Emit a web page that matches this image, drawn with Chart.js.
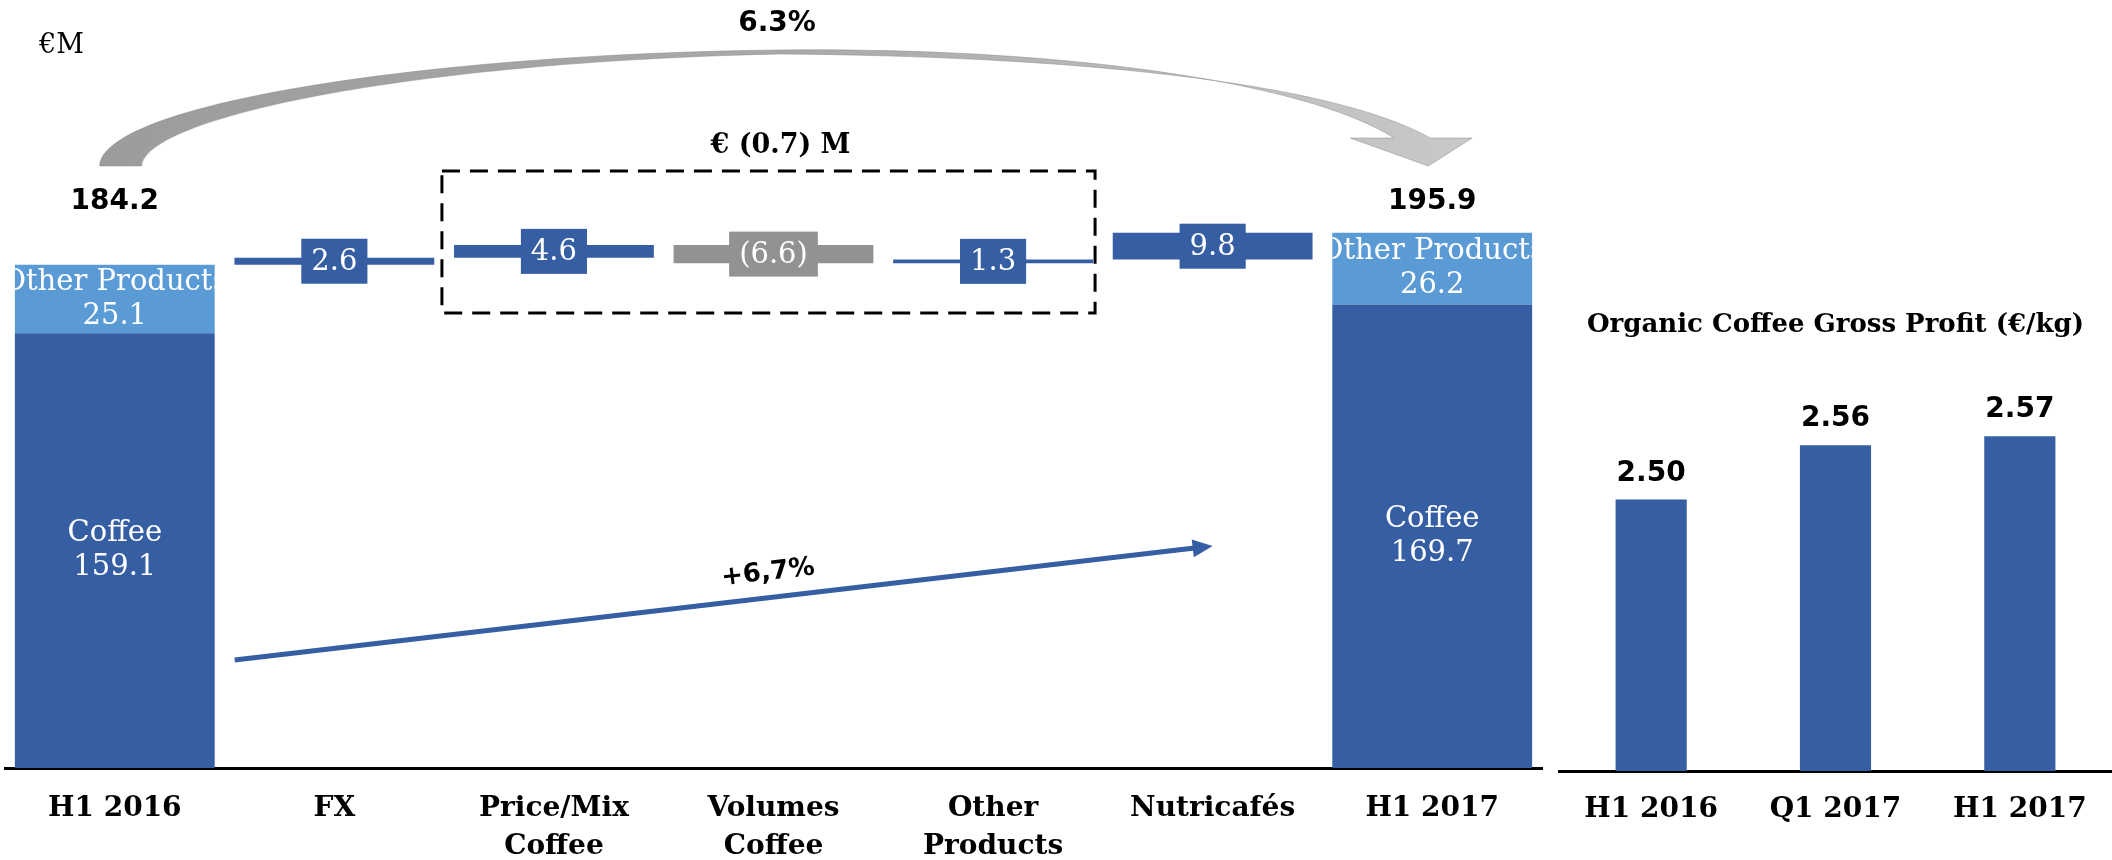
<!DOCTYPE html>
<html>
<head>
<meta charset="utf-8">
<script src="https://cdn.jsdelivr.net/npm/chart.js@4.4.0/dist/chart.umd.min.js"></script>
<style>
    html, body { margin: 0; padding: 0; background: #fff; }
    #wrap { position: relative; width: 2112px; height: 860px; overflow: hidden; }
    #bridgeBox { position: absolute; left: 0; top: 0; width: 1545px; height: 860px; }
    #gpBox { position: absolute; left: 1545px; top: 0; width: 567px; height: 860px; }
</style>
</head>
<body>
<div id="wrap">
    <div id="bridgeBox"><canvas id="bridgeChart"></canvas></div>
    <div id="gpBox"><canvas id="gpChart"></canvas></div>
</div>
<script>
// Bridge data (€M)
const bridgeLabels = [['H1 2016'], ['FX'], ['Price/Mix', 'Coffee'], ['Volumes', 'Coffee'], ['Other', 'Products'], ['Nutricafés'], ['H1 2017']];
const coffeeValues = [159.1, null, null, null, null, null, 169.7];
const otherProductsValues = [25.1, null, null, null, null, null, 26.2];
const totalValues = [184.2, null, null, null, null, null, 195.9];
const bridgeValues = [null, 2.6, 4.6, -6.6, 1.3, 9.8, null];

// Organic coffee gross profit (€/kg)
const gpLabels = ['H1 2016', 'Q1 2017', 'H1 2017'];
const gpValues = [2.50, 2.56, 2.57];

const unitLabel = '€M';
const totalChangeLabel = '6.3%';
const coffeeChangeLabel = '+6,7%';
const gpTitle = 'Organic Coffee Gross Profit (€/kg)';

const darkBlue = '#365EA3';
const lightBlue = '#5B9BD5';
const grey = '#929292';

// floating bars for the library
const coffeeBars = coffeeValues.map(v => v === null ? null : [0, v]);
const otherBars = otherProductsValues.map((v, i) => v === null ? null : [coffeeValues[i], coffeeValues[i] + v]);
let running = totalValues[0];
const stepBars = bridgeValues.map(v => {
    if (v === null) return null;
    const bar = [running, running + v];
    running += v;
    return bar;
});
const boxedSum = bridgeValues[2] + bridgeValues[3] + bridgeValues[4];

function fmtStep(v) {
    return v < 0 ? '(' + Math.abs(v).toFixed(1) + ')' : v.toFixed(1);
}

const bridgeLabelPlugin = {
    id: 'bridgeLabels',
    afterDatasetsDraw(chart) {
        const ctx = chart.ctx;
        const yScale = chart.scales.y;

        // segment labels in the stacked bars
        [0, 1].forEach(di => {
            const ds = chart.data.datasets[di];
            chart.getDatasetMeta(di).data.forEach((bar, i) => {
                const v = ds.values[i];
                if (v === null) return;
                const top = Math.min(bar.y, bar.base);
                const bottom = Math.max(bar.y, bar.base);
                const cy = (top + bottom) / 2;
                ctx.save();
                ctx.beginPath();
                ctx.rect(bar.x - bar.width / 2, top, bar.width, bottom - top);
                ctx.clip();
                ctx.fillStyle = '#fff';
                ctx.font = '29px "DejaVu Serif"';
                ctx.textAlign = 'center';
                ctx.textBaseline = 'middle';
                ctx.fillText(ds.label, bar.x, cy - 17);
                ctx.fillText(v.toFixed(1), bar.x, cy + 17);
                ctx.restore();
            });
        });

        // boxed values on the bridge steps
        chart.getDatasetMeta(2).data.forEach((bar, i) => {
            const v = bridgeValues[i];
            if (v === null) return;
            const text = fmtStep(v);
            ctx.save();
            ctx.font = '29px "DejaVu Serif"';
            const w = ctx.measureText(text).width + 20;
            const h = 45;
            const cy = (bar.y + bar.base) / 2;
            ctx.fillStyle = v < 0 ? grey : darkBlue;
            ctx.fillRect(bar.x - w / 2, cy - h / 2, w, h);
            ctx.fillStyle = '#fff';
            ctx.textAlign = 'center';
            ctx.textBaseline = 'middle';
            ctx.fillText(text, bar.x, cy + 1);
            ctx.restore();
        });

        // totals above the end bars
        const maxTotal = Math.max(...totalValues.filter(v => v !== null));
        const ty = yScale.getPixelForValue(maxTotal) - 31;
        chart.getDatasetMeta(1).data.forEach((bar, i) => {
            if (totalValues[i] === null) return;
            ctx.save();
            ctx.fillStyle = '#000';
            ctx.font = 'bold 28px "DejaVu Sans"';
            ctx.textAlign = 'center';
            ctx.textBaseline = 'middle';
            ctx.fillText(totalValues[i].toFixed(1), bar.x, ty);
            ctx.restore();
        });
    },
    afterDraw(chart) {
        const ctx = chart.ctx;
        const xScale = chart.scales.x;
        const xa = xScale.getPixelForValue(0);
        const xb = xScale.getPixelForValue(6);

        // unit
        ctx.save();
        ctx.fillStyle = '#000';
        ctx.font = '27px "DejaVu Serif"';
        ctx.textAlign = 'left';
        ctx.textBaseline = 'alphabetic';
        ctx.fillText(unitLabel, 39, 53);
        ctx.restore();

        // grey curved arrow from H1 2016 to H1 2017
        ctx.save();
        const grad = ctx.createLinearGradient(xa - 15, 0, xb + 40, 0);
        grad.addColorStop(0, '#9c9c9c');
        grad.addColorStop(0.5, '#a9a9a9');
        grad.addColorStop(1, '#c9c9c9');
        ctx.fillStyle = grad;
        ctx.beginPath();
        ctx.moveTo(xa - 15, 166);
        ctx.bezierCurveTo(xa - 12, 104, xa + 310, 54, xa + 665, 50);
        ctx.bezierCurveTo(xa + 940, 47, xb - 130, 80, xb - 38, 138);
        ctx.lineTo(xb - 82, 138);
        ctx.lineTo(xb - 4, 166);
        ctx.lineTo(xb + 40, 138);
        ctx.lineTo(xb - 2, 138);
        ctx.bezierCurveTo(xb - 105, 80, xa + 945, 56, xa + 665, 54);
        ctx.bezierCurveTo(xa + 290, 62, xa + 30, 118, xa + 27, 166);
        ctx.closePath();
        ctx.fill();
        ctx.strokeStyle = 'rgba(140,140,140,0.5)';
        ctx.lineWidth = 1;
        ctx.stroke();
        ctx.restore();

        ctx.save();
        ctx.fillStyle = '#000';
        ctx.font = 'bold 28px "DejaVu Sans"';
        ctx.textAlign = 'center';
        ctx.textBaseline = 'middle';
        ctx.fillText(totalChangeLabel, 777, 24);
        ctx.restore();

        // dashed box around the coffee / other products steps
        const bx0 = xScale.getPixelForValue(2) - 112;
        const bx1 = xScale.getPixelForValue(4) + 102;
        ctx.save();
        ctx.strokeStyle = '#000';
        ctx.lineWidth = 3;
        ctx.setLineDash([18, 10]);
        ctx.strokeRect(bx0, 171, bx1 - bx0, 142);
        ctx.setLineDash([]);
        ctx.fillStyle = '#000';
        ctx.font = 'bold 27px "DejaVu Serif"';
        ctx.textAlign = 'center';
        ctx.textBaseline = 'middle';
        ctx.fillText('€ ' + fmtStep(boxedSum) + ' M', (bx0 + bx1) / 2 + 12, 146);
        ctx.restore();

        // blue coffee growth arrow
        const barW = chart.getDatasetMeta(0).data[0].width;
        const sx = xa + barW / 2 + 20, sy = 660;
        const ex = xScale.getPixelForValue(5), ey = 546;
        const ang = Math.atan2(ey - sy, ex - sx);
        ctx.save();
        ctx.strokeStyle = darkBlue;
        ctx.fillStyle = darkBlue;
        ctx.lineWidth = 5;
        ctx.beginPath();
        ctx.moveTo(sx, sy);
        ctx.lineTo(ex - 16 * Math.cos(ang), ey - 16 * Math.sin(ang));
        ctx.stroke();
        ctx.translate(ex, ey);
        ctx.rotate(ang);
        ctx.beginPath();
        ctx.moveTo(0, 0);
        ctx.lineTo(-20, -9);
        ctx.lineTo(-20, 9);
        ctx.closePath();
        ctx.fill();
        ctx.restore();

        ctx.save();
        ctx.translate(768, 573);
        ctx.rotate(ang);
        ctx.fillStyle = '#000';
        ctx.font = 'bold 26px "DejaVu Sans"';
        ctx.textAlign = 'center';
        ctx.textBaseline = 'middle';
        ctx.fillText(coffeeChangeLabel, 0, 0);
        ctx.restore();
    }
};

new Chart(document.getElementById('bridgeChart'), {
    type: 'bar',
    data: {
        labels: bridgeLabels,
        datasets: [
            { label: 'Coffee', values: coffeeValues, data: coffeeBars, backgroundColor: darkBlue, grouped: false },
            { label: 'Other Products', values: otherProductsValues, data: otherBars, backgroundColor: lightBlue, grouped: false },
            { label: 'Bridge', data: stepBars, backgroundColor: bridgeValues.map(v => v !== null && v < 0 ? grey : darkBlue), grouped: false }
        ]
    },
    options: {
        responsive: true,
        maintainAspectRatio: false,
        animation: false,
        barPercentage: 0.91,
        categoryPercentage: 1,
        layout: { padding: { left: 5, right: 3, top: 85, bottom: 0 } },
        plugins: {
            legend: { display: false },
            tooltip: { enabled: false }
        },
        scales: {
            x: {
                grid: { display: false, drawTicks: false },
                border: { display: true, color: '#000', width: 3 },
                ticks: {
                    color: '#000',
                    padding: 22,
                    font: { family: 'DejaVu Serif', weight: 'bold', size: 28, lineHeight: 1.36 }
                },
                afterFit(scale) { scale.height = 92; }
            },
            y: { display: false, min: 0, max: 250 }
        }
    },
    plugins: [bridgeLabelPlugin]
});

const gpLabelPlugin = {
    id: 'gpLabels',
    afterDatasetsDraw(chart) {
        const ctx = chart.ctx;
        chart.getDatasetMeta(0).data.forEach((bar, i) => {
            ctx.save();
            ctx.fillStyle = '#000';
            ctx.font = 'bold 28px "DejaVu Sans"';
            ctx.textAlign = 'center';
            ctx.textBaseline = 'alphabetic';
            ctx.fillText(gpValues[i].toFixed(2), bar.x, bar.y - 19);
            ctx.restore();
        });
    }
};

new Chart(document.getElementById('gpChart'), {
    type: 'bar',
    data: {
        labels: gpLabels,
        datasets: [{ data: gpValues, backgroundColor: darkBlue, barPercentage: 0.386, categoryPercentage: 1 }]
    },
    options: {
        responsive: true,
        maintainAspectRatio: false,
        animation: false,
        layout: { padding: { left: 14, right: 0, top: 310, bottom: 0 } },
        plugins: {
            legend: { display: false },
            tooltip: { enabled: false },
            title: {
                display: true,
                text: gpTitle,
                color: '#000',
                align: 'center',
                font: { family: 'DejaVu Serif', weight: 'bold', size: 26 },
                padding: { top: 0, bottom: 0 }
            }
        },
        scales: {
            x: {
                grid: { display: false, drawTicks: false },
                border: { display: true, color: '#000', width: 3 },
                ticks: {
                    color: '#000',
                    padding: 22,
                    font: { family: 'DejaVu Serif', weight: 'bold', size: 28 }
                },
                afterFit(scale) { scale.height = 89; }
            },
            y: { display: false, min: 2.2, max: 2.675 }
        }
    },
    plugins: [gpLabelPlugin]
});
</script>
</body>
</html>
